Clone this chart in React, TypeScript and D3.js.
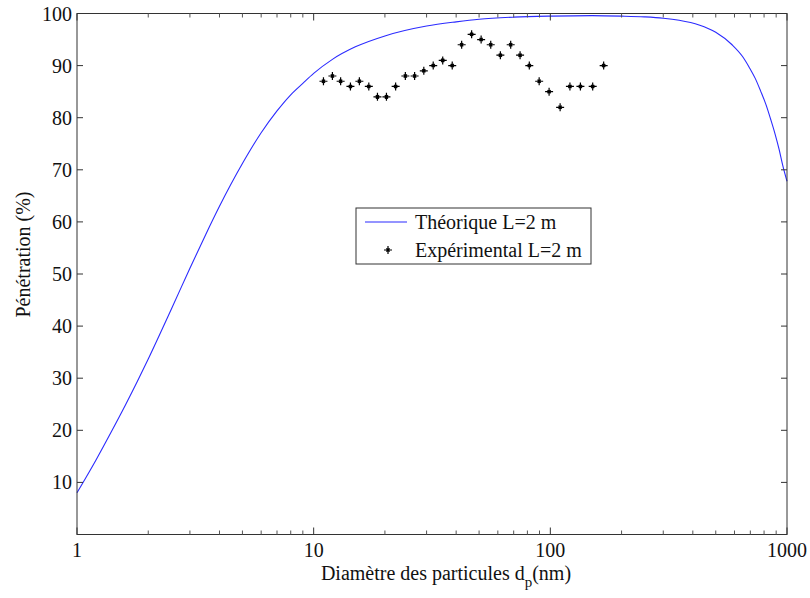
import React from "react";
import * as d3 from "d3";

const theoX = [1, 1.2, 1.4, 1.6, 1.8, 2, 2.5, 3, 3.5, 4, 5, 6, 7, 8, 9, 10, 12, 15, 20, 30, 40, 50, 70, 100, 150, 200, 250, 300, 350, 425, 500, 586, 650, 692, 735, 774, 815, 853, 890, 925, 960, 1000];
const theoY = [8, 14.2, 19.8, 24.8, 29.4, 33.7, 43.2, 51.1, 57.6, 63, 71.2, 77.1, 81.3, 84.4, 86.6, 88.5, 91.2, 93.6, 95.7, 97.6, 98.4, 98.9, 99.3, 99.5, 99.6, 99.5, 99.35, 99.1, 98.7, 97.8, 96.4, 94, 91.7, 89.7, 87.5, 85.1, 82.5, 79.7, 76.9, 74, 70.8, 67.8];

const expX = [11, 12, 13, 14.3, 15.6, 17.1, 18.6, 20.3, 22.2, 24.4, 26.7, 29.2, 32, 35.1, 38.5, 42.2, 46.5, 51, 56, 61.5, 68, 74.5, 81.5, 89.7, 98.8, 110, 121, 134, 151, 168];
const expY = [87, 88, 87, 86, 87, 86, 84, 84, 86, 88, 88, 89, 90, 91, 90, 94, 96, 95, 94, 92, 94, 92, 90, 87, 85, 82, 86, 86, 86, 90];

const xTicks = [1, 10, 100, 1000];
const yTicks = [10, 20, 30, 40, 50, 60, 70, 80, 90, 100];

const legendLabels = ["Théorique L=2 m", "Expérimental L=2 m"];

export default function App() {
  const W = 810, H = 598;
  const L = 77, R = 787, T = 13.5, B = 534.5;
  const x = d3.scaleLog().domain([1, 1000]).range([L, R]);
  const y = d3.scaleLinear().domain([0, 100]).range([B, T]);
  const font = "'Liberation Serif', 'Times New Roman', serif";
  const fs = 20;

  const line = d3.line<number>()
    .x((_, i) => x(theoX[i]))
    .y((d) => y(d))
    .curve(d3.curveMonotoneX);

  const minor: number[] = [];
  for (let dec = 1; dec < 1000; dec *= 10) {
    for (let k = 2; k <= 9; k++) minor.push(dec * k);
  }

  const star = (cx: number, cy: number) => {
    const a = 4, b = 1.6;
    return `M${cx - a},${cy}L${cx + a},${cy}M${cx},${cy - a}L${cx},${cy + a}M${cx - b},${cy - b}L${cx + b},${cy + b}M${cx - b},${cy + b}L${cx + b},${cy - b}`;
  };

  const lgX = 356, lgY = 208, lgW = 235, lgH = 56;
  const row1 = lgY + 14, row2 = lgY + 42;

  return (
    <svg width={W} height={H} style={{ position: "absolute", left: 0, top: 0, background: "#fff" }}>
      <rect x={0} y={0} width={W} height={H} fill="#fff" />
      <path d={line(theoY) || ""} fill="none" stroke="#2b2bff" strokeWidth={1.1} />
      {expY.map((v, i) => (
        <path key={i} d={star(x(expX[i]), y(v))} stroke="#000" strokeWidth={1.2} fill="none" />
      ))}
      <rect x={L} y={T} width={R - L} height={B - T} fill="none" stroke="#333" strokeWidth={1} />
      {yTicks.map((t) => (
        <g key={"y" + t}>
          <line x1={L} x2={L + 6} y1={y(t)} y2={y(t)} stroke="#333" />
          <line x1={R} x2={R - 6} y1={y(t)} y2={y(t)} stroke="#333" />
          <text x={L - 5} y={y(t)} dy="0.35em" textAnchor="end" fontFamily={font} fontSize={fs} fill="#111">{t}</text>
        </g>
      ))}
      {xTicks.map((t) => (
        <g key={"x" + t}>
          <line x1={x(t)} x2={x(t)} y1={B} y2={B - 7} stroke="#333" />
          <line x1={x(t)} x2={x(t)} y1={T} y2={T + 7} stroke="#333" />
          <text x={x(t)} y={557} textAnchor="middle" fontFamily={font} fontSize={fs} fill="#111">{t}</text>
        </g>
      ))}
      {minor.map((t) => (
        <g key={"m" + t}>
          <line x1={x(t)} x2={x(t)} y1={B} y2={B - 4} stroke="#555" />
          <line x1={x(t)} x2={x(t)} y1={T} y2={T + 4} stroke="#555" />
        </g>
      ))}
      <text x={446} y={580} textAnchor="middle" fontFamily={font} fontSize={fs} fill="#111">
        Diamètre des particules d<tspan dy="7" fontSize={15}>p</tspan><tspan dy="-7">(nm)</tspan>
      </text>
      <text transform={`translate(30,254.5) rotate(-90)`} textAnchor="middle" fontFamily={font} fontSize={fs} fill="#111">
        Pénétration (%)
      </text>
      <rect x={lgX} y={lgY} width={lgW} height={lgH} fill="#fff" stroke="#333" />
      <line x1={lgX + 9} x2={lgX + 51} y1={row1} y2={row1} stroke="#2b2bff" strokeWidth={1.1} />
      <text x={415} y={row1} dy="0.35em" fontFamily={font} fontSize={fs} fill="#111">{legendLabels[0]}</text>
      <path d={star(388, row2)} stroke="#000" strokeWidth={1.2} fill="none" />
      <text x={415} y={row2} dy="0.35em" fontFamily={font} fontSize={fs} fill="#111">{legendLabels[1]}</text>
    </svg>
  );
}
